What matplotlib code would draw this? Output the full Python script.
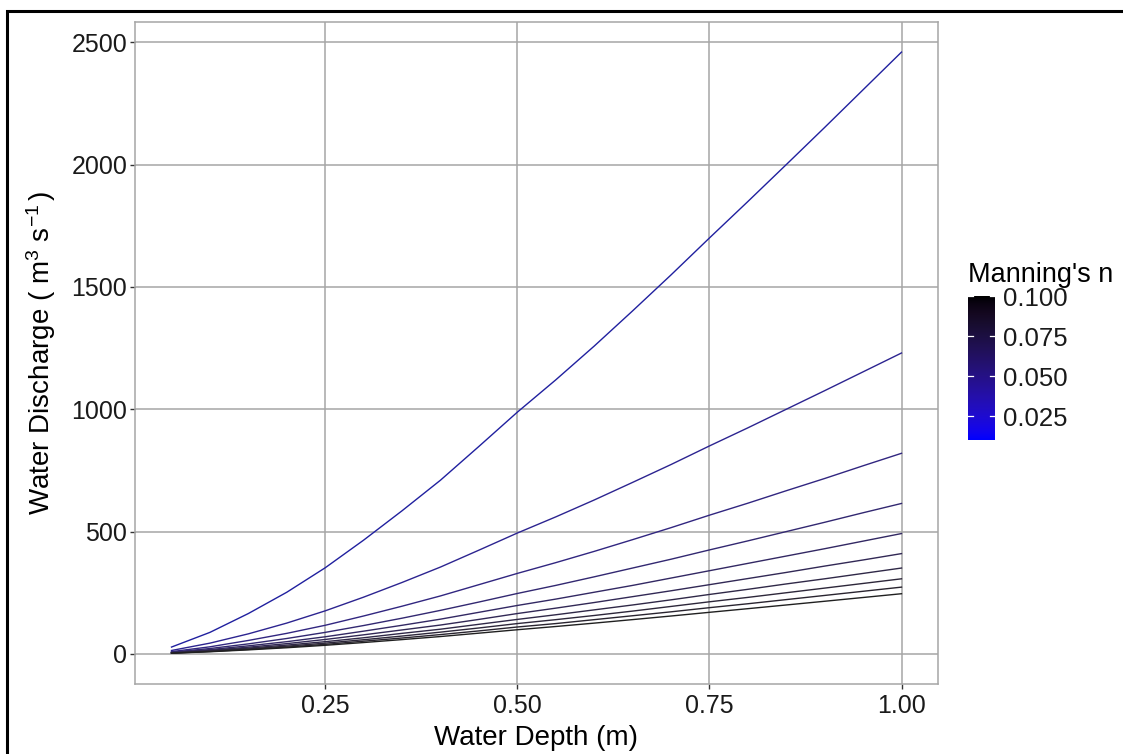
import numpy as np
import matplotlib
matplotlib.use("Agg")
import matplotlib.pyplot as plt
import matplotlib.ticker as tkr
from matplotlib.colors import ListedColormap, Normalize
from matplotlib.patches import Rectangle

plt.rcParams['font.family'] = ['Liberation Sans', 'DejaVu Sans']
plt.rcParams['mathtext.fontset'] = 'custom'
plt.rcParams['mathtext.rm'] = 'Liberation Sans'
plt.rcParams['mathtext.it'] = 'Liberation Sans'

# water depth (m)
depth = [0.05, 0.10, 0.15, 0.20, 0.25, 0.30, 0.35, 0.40, 0.45, 0.50,
         0.55, 0.60, 0.65, 0.70, 0.75, 0.80, 0.85, 0.90, 0.95, 1.00]

# Manning's n of each curve
manning_n = [0.01, 0.02, 0.03, 0.04, 0.05, 0.06, 0.07, 0.08, 0.09, 0.10]

# discharge (m3/s), one list per n
q_n01 = [28, 88, 165, 252, 352, 465, 585, 710, 848, 988, 1120, 1258, 1402, 1549, 1700, 1849, 2000, 2152, 2306, 2460]
q_n02 = [14, 44, 82, 126, 176, 232, 292, 355, 424, 494, 560, 629, 701, 774, 850, 924, 1000, 1076, 1153, 1230]
q_n03 = [9.3, 29, 55, 84, 117, 155, 195, 237, 283, 329, 373, 419, 467, 516, 567, 616, 667, 717, 769, 820]
q_n04 = [7, 22, 41, 63, 88, 116, 146, 178, 212, 247, 280, 315, 351, 387, 425, 462, 500, 538, 577, 615]
q_n05 = [5.6, 17.6, 33, 50, 70, 93, 117, 142, 170, 198, 224, 252, 280, 310, 340, 370, 400, 430, 461, 492]
q_n06 = [4.7, 14.7, 27.5, 42, 59, 78, 98, 118, 141, 165, 187, 210, 234, 258, 283, 308, 333, 359, 384, 410]
q_n07 = [4, 12.6, 23.6, 36, 50, 66, 84, 101, 121, 141, 160, 180, 200, 221, 243, 264, 286, 307, 329, 351]
q_n08 = [3.5, 11, 20.6, 31.5, 44, 58, 73, 89, 106, 124, 140, 157, 175, 194, 213, 231, 250, 269, 288, 307]
q_n09 = [3.1, 9.8, 18.3, 28, 39, 52, 65, 79, 94, 110, 124, 140, 156, 172, 189, 205, 222, 239, 256, 273]
q_n10 = [2.8, 8.8, 16.5, 25.2, 35.2, 46.5, 58.5, 71, 84.8, 98.8, 112, 125.8, 140.2, 154.9, 170, 184.9, 200, 215.2, 230.6, 246]

discharge = [q_n01, q_n02, q_n03, q_n04, q_n05, q_n06, q_n07, q_n08, q_n09, q_n10]


# blue -> black gradient, interpolated in Lab like ggplot does
def lab_to_rgb(L, a, b):
    fy = (L + 16) / 116
    fx = fy + a / 500
    fz = fy - b / 200
    def finv(t):
        return np.where(t > 6 / 29, t ** 3, 3 * (6 / 29) ** 2 * (t - 4 / 29))
    X, Y, Z = 0.95047 * finv(fx), finv(fy), 1.08883 * finv(fz)
    r = 3.2406 * X - 1.5372 * Y - 0.4986 * Z
    g = -0.9689 * X + 1.8758 * Y + 0.0415 * Z
    bb = 0.0557 * X - 0.2040 * Y + 1.0570 * Z
    rgb = np.clip(np.stack([r, g, bb], axis=-1), 0, 1)
    return np.where(rgb > 0.0031308, 1.055 * rgb ** (1 / 2.4) - 0.055, 12.92 * rgb)

t = np.linspace(0, 1, 256)
blue_lab = np.array([32.30, 79.19, -107.86])
cols = lab_to_rgb(blue_lab[0] * (1 - t), blue_lab[1] * (1 - t), blue_lab[2] * (1 - t))
cmap = ListedColormap(cols)
norm = Normalize(0.01, 0.10)

fig = plt.figure(figsize=(11.23, 7.54), dpi=100)
ax = fig.add_axes([135 / 1123, 70 / 754, 803 / 1123, 662 / 754])

# thin lines look muted in the reference
dim = np.array([0.25, 0.25, 0.25])
for n, q in zip(manning_n, discharge):
    c = 0.5 * np.array(cmap(norm(n))[:3]) + 0.5 * dim
    ax.plot(depth, q, color=c, lw=1.0, solid_joinstyle='round')

ax.set_xlim(0.0025, 1.0475)
ax.set_ylim(-123, 2583)
ax.xaxis.set_major_locator(tkr.FixedLocator([0.25, 0.50, 0.75, 1.00]))
ax.xaxis.set_major_formatter(tkr.FormatStrFormatter('%.2f'))
ax.yaxis.set_major_locator(tkr.MultipleLocator(500))

ax.grid(which='major', color='#a6a6a6', lw=1.1)
ax.set_axisbelow(True)
for s in ax.spines.values():
    s.set_color('#a6a6a6')
    s.set_linewidth(1.1)
ax.tick_params(length=3.5, width=1.0, color='#333333', labelsize=18,
               labelcolor='#1a1a1a', pad=2)
ax.tick_params(axis='x', pad=4)

ax.set_xlabel("Water Depth (m)", fontsize=20, labelpad=5)
ax.set_ylabel(r"Water Discharge$\ (\ \mathregular{m^3\ s^{-1}}\,)$", fontsize=20, labelpad=10)

# colour bar legend
cax = fig.add_axes([968 / 1123, 314 / 754, 27 / 1123, 144 / 754])
grad = np.linspace(0.01, 0.10, 256).reshape(-1, 1)
cax.imshow(grad, aspect='auto', cmap=cmap, norm=norm, origin='lower',
           extent=[0, 1, 0.01, 0.10])
cax.set_xlim(0, 1)
cax.set_ylim(0.01, 0.10)
cax.set_xticks([])
cbar_ticks = [0.025, 0.050, 0.075, 0.100]
cax.yaxis.tick_right()
cax.set_yticks(cbar_ticks)
cax.set_yticklabels(['%.3f' % v for v in cbar_ticks])
cax.tick_params(axis='y', length=0, labelsize=18.5, labelcolor='#1a1a1a', pad=6)
for v in cbar_ticks:
    cax.plot([0, 0.2], [v, v], color='white', lw=0.9)
    cax.plot([0.8, 1], [v, v], color='white', lw=0.9)
for s in cax.spines.values():
    s.set_visible(False)
fig.text(968 / 1123, 1 - 275 / 754, "Manning's n", fontsize=19.5, ha='left', va='center')

# outer frame of the image
fig.patches.append(Rectangle((7 / 1123, -0.1), 1.2, 1.1 - 11 / 754, transform=fig.transFigure,
                             fill=False, edgecolor='black', lw=2.2, clip_on=False))

fig.savefig("out.png", dpi=100)
